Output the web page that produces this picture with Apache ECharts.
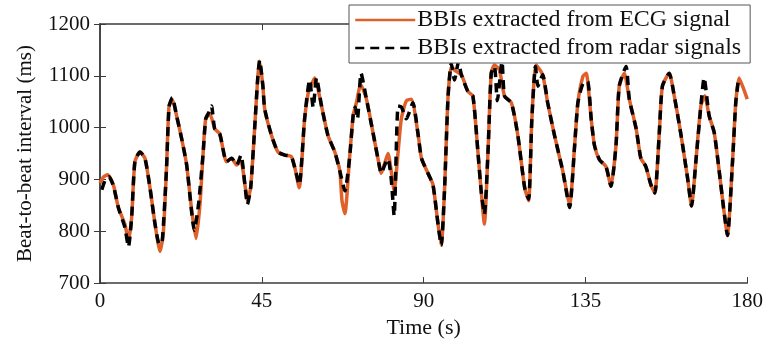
<!DOCTYPE html>
<html>
<head>
<meta charset="utf-8">
<script src="https://cdn.jsdelivr.net/npm/echarts@6/dist/echarts.min.js"></script>
<style>
	html, body { margin: 0; padding: 0; background: #fff; }
	#echarts { width: 766px; height: 344px; }
</style>
</head>
<body>
<div id="echarts"></div>
<script>
const FONT = "'Liberation Serif', 'Times New Roman', serif";

const xTicks = [0, 45, 90, 135, 180];
const yTicks = [700, 800, 900, 1000, 1100, 1200];

// [time (s), BBI (ms)]
const ecgBBI = [
	[0, 893], [1, 905], [2.1, 909], [3.7, 890], [5.1, 846], [6.9, 814], [7.9, 783], [8.8, 827],
	[9.7, 934], [11.1, 953], [12.5, 941], [13.9, 884], [15.3, 814], [16.7, 761], [17.6, 796],
	[18.5, 922], [19.2, 1042], [20.1, 1055], [21.3, 1023], [22.7, 979], [24.1, 928], [25.5, 840],
	[26.7, 786], [27.8, 852], [28.7, 953], [29.4, 1017], [30.6, 1026], [31.9, 998], [33.3, 988],
	[35.2, 934], [36.6, 941], [38, 928], [39.2, 935], [40.3, 890], [41.0, 860], [41.9, 884],
	[43, 998], [43.9, 1099], [44.4, 1128], [45.3, 1080], [45.8, 1036], [47.7, 985], [49.5, 953],
	[51.4, 947], [53.2, 944], [54.2, 922], [55.4, 884], [56.9, 1017], [57.9, 1067], [58.6, 1080],
	[59.7, 1096], [61.6, 1042], [63.4, 985], [65.3, 953], [66.7, 916], [67.3, 859], [68.1, 834],
	[69.4, 941], [70.4, 1023], [71.3, 1048], [72.5, 1083], [74.1, 1055], [75.9, 991], [77.8, 922],
	[78.2, 912], [79.3, 934], [80.1, 950], [81, 916], [81.8, 878], [82.9, 953], [83.8, 1017],
	[85.2, 1052], [86.6, 1055], [88.5, 985], [89.4, 941], [91.4, 909], [92.6, 890], [94, 814],
	[94.9, 773], [95.8, 878], [96.8, 1061], [97.7, 1118], [98.6, 1111], [100.5, 1102], [102.3, 1070],
	[103.7, 1061], [105.1, 953], [106, 878], [106.9, 814], [107.9, 953], [108.8, 1105], [109.7, 1121],
	[111.1, 1111], [112.5, 1061], [114.4, 1048], [116.2, 985], [118.1, 884], [119.2, 859],
	[120.1, 1017], [121.3, 1121], [123.1, 1102], [124.5, 1048], [126.4, 985], [128.7, 916],
	[130.6, 852], [132, 966], [132.9, 1048], [134.3, 1099], [135.2, 1105], [136.6, 1017],
	[137.5, 966], [138.9, 938], [140.7, 925], [142.1, 887], [143.5, 966], [144.4, 1080],
	[145.8, 1105], [147.2, 1055], [149.1, 998], [150.4, 941], [151.8, 925], [153.2, 890],
	[154.3, 874], [155.5, 985], [156.4, 1080], [158.3, 1105], [159.7, 1061], [161.6, 985],
	[163.4, 903], [164.5, 849], [165.7, 934], [167.1, 1042], [168.2, 1061], [169.4, 1023],
	[170.8, 991], [172.2, 916], [173.4, 846], [174.5, 792], [175.9, 934], [176.8, 1048],
	[177.7, 1096], [178.7, 1080], [180, 1055]
];

const radarBBI = [
	[0.5, 880], [1.5, 900], [2.5, 905], [3.7, 888], [5.1, 846], [6.9, 808], [7.9, 770], [8.8, 827],
	[9.7, 934], [11.1, 953], [12.5, 941], [13.9, 884], [15.3, 814], [16.5, 775], [17.3, 780],
	[18.5, 922], [19.2, 1040], [20.1, 1058], [21.3, 1023], [22.7, 979], [24.1, 928], [25.5, 836],
	[26.2, 802], [27.4, 852], [28.7, 953], [29.4, 1017], [30.3, 1030], [31, 1042], [31.9, 998],
	[33.3, 988], [35.2, 934], [36.6, 941], [38, 928], [39.2, 947], [40.3, 890], [41.0, 852],
	[41.9, 884], [43, 998], [43.9, 1099], [44.4, 1130], [45.3, 1080], [45.8, 1036], [47.7, 985],
	[49.5, 953], [51.4, 947], [53.2, 944], [54.2, 922], [55.4, 890], [56.9, 1017], [58.3, 1092],
	[59.3, 1039], [60.2, 1096], [61.6, 1042], [63.4, 985], [65.3, 953], [66.7, 916], [68.1, 878],
	[69.4, 941], [70.4, 1023], [71, 1040], [71.6, 1017], [72.6, 1105], [74.1, 1055], [75.9, 991],
	[77.8, 922], [78.2, 912], [79.3, 930], [80.1, 940], [81, 900], [81.8, 830], [82.9, 1042],
	[83.8, 1040], [85.2, 1017], [87, 1048], [88.5, 985], [89.4, 941], [91.4, 909], [92.6, 890],
	[94, 814], [94.9, 773], [95.8, 878], [96.8, 1061], [97.7, 1124], [98.6, 1092], [99.7, 1127],
	[100.5, 1102], [102.3, 1070], [103.7, 1061], [105.1, 953], [106, 878], [106.9, 833],
	[107.9, 953], [108.8, 1105], [109.7, 1118], [110.5, 1052], [111.8, 1127], [112.5, 1061],
	[114.4, 1048], [116.2, 985], [118.1, 884], [119.2, 862], [120.1, 1017], [121.1, 1118],
	[121.8, 1080], [123.1, 1102], [124.5, 1048], [126.4, 985], [128.7, 916], [130.6, 846],
	[132, 966], [132.9, 1048], [134.3, 1085], [135.6, 1089], [136.6, 1017], [137.5, 966],
	[138.9, 938], [140.7, 925], [142.1, 887], [143.5, 966], [144.4, 1080], [146.3, 1118],
	[147.2, 1055], [149.1, 998], [150.4, 941], [151.8, 925], [153.2, 890], [154.3, 874],
	[155.5, 985], [156.4, 1080], [158.3, 1105], [159.7, 1061], [161.6, 985], [163.4, 903],
	[164.5, 849], [165.7, 934], [167.1, 1042], [168, 1096], [169.4, 1023], [170.8, 991],
	[172.2, 916], [173.4, 846], [174.5, 792], [175.9, 934], [176.8, 1048], [177.5, 1090]
];

const legendNames = ["BBIs extracted from ECG signal", "BBIs extracted from radar signals"];

const myChart = echarts.init(document.getElementById("echarts"), null, { renderer: "canvas" });

const axisColor = "#3c3c3c";
const baseX = {
	type: "value",
	min: xTicks[0],
	max: xTicks[xTicks.length - 1],
	interval: 45,
	splitLine: { show: false },
	axisLine: { show: true, lineStyle: { color: axisColor, width: 1.5 } },
	axisTick: { show: true, inside: true, length: 6, lineStyle: { color: axisColor } },
};
const baseY = {
	type: "value",
	min: yTicks[0],
	max: yTicks[yTicks.length - 1],
	interval: 100,
	splitLine: { show: false },
	axisLine: { show: true, lineStyle: { color: axisColor, width: 1.5 } },
	axisTick: { show: true, inside: true, length: 6, lineStyle: { color: axisColor } },
};

const option = {
	animation: false,
	backgroundColor: "#fff",
	textStyle: { fontFamily: FONT },
	grid: { left: 100, right: 18, top: 24, bottom: 57 },
	legend: {
		orient: "vertical",
		left: 349,
		top: 5,
		data: legendNames,
		backgroundColor: "#fff",
		borderColor: "#555",
		borderWidth: 1,
		padding: [3, 9, 3, 5],
		itemGap: 4,
		itemWidth: 60,
		itemHeight: 22,
		z: 10,
		itemStyle: { opacity: 0 },
		lineStyle: { width: 2.5 },
		textStyle: { fontFamily: FONT, fontSize: 24, color: "#111", padding: [0, 0, 0, -3] },
	},
	xAxis: [
		{
			...baseX,
			position: "bottom",
			name: "Time (s)",
			nameLocation: "middle",
			nameGap: 29,
			nameTextStyle: { fontFamily: FONT, fontSize: 22, color: "#111" },
			axisLabel: { fontFamily: FONT, fontSize: 21, color: "#111", margin: 8 },
		},
		{ ...baseX, position: "top", axisLabel: { show: false } },
	],
	yAxis: [
		{
			...baseY,
			position: "left",
			name: "Beat-to-beat interval (ms)",
			nameLocation: "middle",
			nameGap: 64,
			nameTextStyle: { fontFamily: FONT, fontSize: 21, color: "#111" },
			axisLabel: {
				fontFamily: FONT, fontSize: 21, color: "#111", margin: 10,
				formatter: (v) => String(v),
			},
		},
		{ ...baseY, position: "right", axisLabel: { show: false } },
	],
	series: [
		{
			name: legendNames[0],
			type: "line",
			data: ecgBBI,
			symbol: "none",
			smooth: 0.2,
			lineStyle: { color: "#e0602a", width: 3.5 },
			itemStyle: { color: "#e0602a" },
		},
		{
			name: legendNames[1],
			type: "line",
			data: radarBBI,
			symbol: "none",
			smooth: 0.2,
			lineStyle: { color: "#000", width: 3.5, type: [9, 6] },
			itemStyle: { color: "#000" },
		},
	],
};

myChart.setOption(option);
</script>
</body>
</html>
